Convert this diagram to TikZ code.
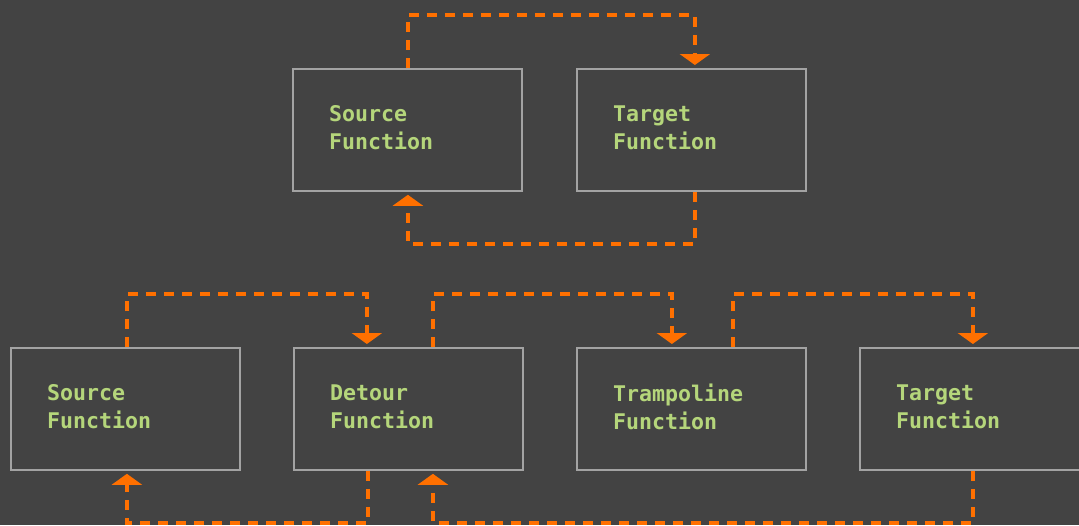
\documentclass[tikz,border=0pt]{standalone}
\usepackage{fontspec}
\setmonofont{DejaVu Sans Mono}
\usetikzlibrary{arrows.meta,calc}
\definecolor{bg}{HTML}{434343}
\definecolor{boxline}{HTML}{A3A3A3}
\definecolor{label}{HTML}{B5D67B}
\definecolor{flowc}{HTML}{FF7000}
\tikzset{
  fbox/.style={draw=boxline, line width=1.8pt, minimum width=229pt, minimum height=122pt, inner sep=0pt, anchor=north west},
  ftext/.style={text=label, font=\ttfamily\bfseries\fontsize{21.6pt}{28pt}\selectfont, align=left, anchor=west, inner sep=0pt},
  flow/.style={draw=flowc, line width=3.6pt, dash pattern=on 10pt off 8pt, -{Triangle[width=30pt,length=11pt]}, shorten >=3pt}
}
\begin{document}
\begin{tikzpicture}[x=1pt,y=-1pt]
\fill[bg] (0,0) rectangle (1079,525);
\useasboundingbox (0,0) rectangle (1079,525);
% upper pair
\node[fbox] (srcA) at (292,68) {};
\node[fbox] (tgtA) at (576,68) {};
\node[ftext] (srcAt) at (329,128) {Source\\Function};
\node[ftext] (tgtAt) at (613,128) {Target\\Function};
% lower chain
\node[fbox] (srcB) at (10,347) {};
\node[fbox] (detB) at (293,347) {};
\node[fbox] (trmB) at (576,347) {};
\node[fbox] (tgtB) at (859,347) {};
\node[ftext] (srcBt) at (47,407) {Source\\Function};
\node[ftext] (detBt) at (330,407) {Detour\\Function};
\node[ftext] (trmBt) at (613,407) {Trampoline\\Function};
\node[ftext] (tgtBt) at (896,407) {Target\\Function};
% upper flow
\draw[flow] ([xshift=0.5pt]srcA.north) -- ++(0,-53) -| ([xshift=3.5pt]tgtA.north);
\draw[flow] ([xshift=3.5pt]tgtA.south) -- ++(0,52) -| ([xshift=0.5pt]srcA.south);
% lower flow
\draw[flow] ([xshift=1.5pt]srcB.north) -- ++(0,-53) -| ([xshift=-41.5pt]detB.north);
\draw[flow] ([xshift=24.5pt]detB.north) -- ++(0,-53) -| ([xshift=-19.5pt]trmB.north);
\draw[flow] ([xshift=41.5pt]trmB.north) -- ++(0,-53) -| ([xshift=-1.5pt]tgtB.north);
\draw[flow] ([xshift=-40.5pt]detB.south) -- ++(0,52) -| ([xshift=1.5pt]srcB.south);
\draw[flow] ([xshift=-1.5pt]tgtB.south) -- ++(0,52) -| ([xshift=24.5pt]detB.south);
\end{tikzpicture}
\end{document}
